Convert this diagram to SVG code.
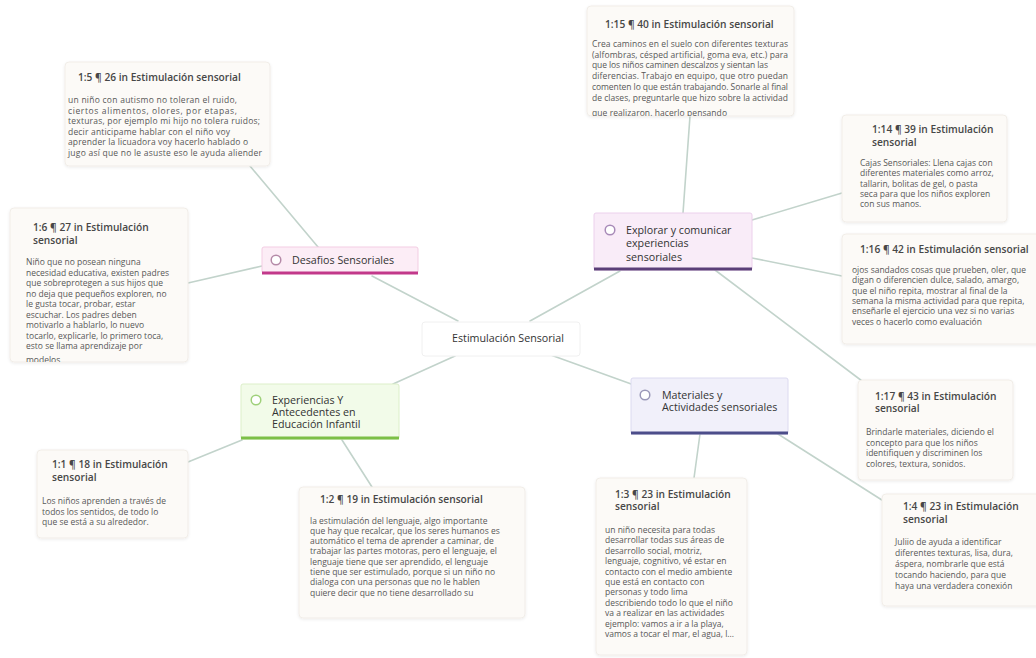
<svg xmlns="http://www.w3.org/2000/svg" width="1036" height="658" viewBox="0 0 1036 658">
<defs>
<filter id="sh" x="-10%" y="-10%" width="120%" height="130%">
<feDropShadow dx="0" dy="1" stdDeviation="1.5" flood-color="#000" flood-opacity="0.08"/>
</filter>
<clipPath id="clipB"><rect x="10" y="208" width="178" height="154"/></clipPath>
<clipPath id="clipC"><rect x="587" y="6" width="207" height="110"/></clipPath>
<clipPath id="clipI"><rect x="299" y="487" width="226" height="131"/></clipPath>
<clipPath id="clipJ"><rect x="596" y="478" width="151" height="177"/></clipPath>
</defs>
<style>
.note{fill:#fcfaf7;stroke:#f1ede8;stroke-width:1;filter:url(#sh)}
.nt{font-family:"Open Sans","Liberation Sans",sans-serif;font-size:10.2px;font-weight:600;fill:#474747}
.nb{font-family:"Open Sans","Liberation Sans",sans-serif;font-size:8.5px;fill:#585858}
.lbl{font-family:"Open Sans","Liberation Sans",sans-serif;font-size:10.7px;fill:#333333}
.conn{stroke:#c2d3cb;stroke-width:1.6;fill:none;stroke-linecap:round}
.ic{fill:#fff;stroke-width:1.5}
</style>
<rect width="1036" height="658" fill="#ffffff"/>
<g id="connectors">
<line class="conn" x1="458" y1="321" x2="372" y2="276"/>
<line class="conn" x1="530" y1="321" x2="620" y2="271"/>
<line class="conn" x1="455" y1="356" x2="393" y2="384"/>
<line class="conn" x1="548" y1="354" x2="634" y2="385"/>
<line class="conn" x1="318" y1="247" x2="250" y2="166"/>
<line class="conn" x1="262" y1="266" x2="188" y2="283"/>
<line class="conn" x1="683" y1="213" x2="690" y2="116"/>
<line class="conn" x1="752" y1="220" x2="842" y2="193"/>
<line class="conn" x1="752" y1="258" x2="842" y2="276"/>
<line class="conn" x1="715" y1="270" x2="866" y2="384"/>
<line class="conn" x1="242" y1="440" x2="188" y2="462"/>
<line class="conn" x1="342" y1="440" x2="372" y2="487"/>
<line class="conn" x1="700" y1="434" x2="694" y2="478"/>
<line class="conn" x1="778" y1="434" x2="885" y2="502"/>
</g>
<g id="center">
<rect x="422" y="322" width="158" height="34" rx="3" fill="#ffffff" stroke="#f0f0f0"/>
<text class="lbl" x="508" y="342" text-anchor="middle">Estimulación Sensorial</text>
</g>
<g id="desafios">
<rect x="262" y="247" width="156" height="26" rx="2" fill="#fcedf6" stroke="#f3cde3"/>
<line x1="262" y1="273" x2="418" y2="273" stroke="#c2388a" stroke-width="3"/>
<circle class="ic" cx="276" cy="260" r="4.8" stroke="#b58aa8"/>
<text class="lbl" x="292" y="264">Desafios Sensoriales</text>
</g>
<g id="explorar">
<rect x="594" y="213" width="158" height="57" rx="2" fill="#f9ecf8" stroke="#ecd0ec"/>
<line x1="594" y1="269" x2="752" y2="269" stroke="#5b3f78" stroke-width="3"/>
<circle class="ic" cx="610" cy="230" r="4.8" stroke="#a88ab8"/>
<text class="lbl" x="626" y="233.5">Explorar y comunicar</text>
<text class="lbl" x="626" y="247">experiencias</text>
<text class="lbl" x="626" y="260.5">sensoriales</text>
</g>
<g id="experiencias">
<rect x="241" y="384" width="158" height="55" rx="2" fill="#f2fbe9" stroke="#dcefc9"/>
<line x1="241" y1="438" x2="399" y2="438" stroke="#7cbf47" stroke-width="3"/>
<circle class="ic" cx="256" cy="400" r="4.8" stroke="#9fd07a"/>
<text class="lbl" x="272" y="403.5">Experiencias Y</text>
<text class="lbl" x="272" y="415.5">Antecedentes en</text>
<text class="lbl" x="272" y="427.5">Educación Infantil</text>
</g>
<g id="materiales">
<rect x="631" y="378" width="157" height="56" rx="2" fill="#f1f0fa" stroke="#dcdaf0"/>
<line x1="631" y1="433" x2="788" y2="433" stroke="#4c4d8a" stroke-width="3"/>
<circle class="ic" cx="645" cy="395" r="4.8" stroke="#9a98b8"/>
<text class="lbl" x="662" y="398.5">Materiales y</text>
<text class="lbl" x="662" y="411">Actividades sensoriales</text>
</g>
<g id="note-a">
<rect class="note" x="65" y="62" width="205" height="104" rx="4"/>
<text class="nt" x="78" y="81">1:5 ¶ 26 in Estimulación sensorial</text>
<text class="nb" x="68" y="103" textLength="169">un niño con autismo no toleran el ruido,</text>
<text class="nb" x="68" y="113.5" textLength="169">ciertos alimentos, olores, por etapas,</text>
<text class="nb" x="68" y="124" textLength="192">texturas, por ejemplo mi hijo no tolera ruidos;</text>
<text class="nb" x="68" y="134.5" textLength="162">decir anticipame hablar con el niño voy</text>
<text class="nb" x="68" y="145" textLength="180">aprender la licuadora voy hacerlo hablado o</text>
<text class="nb" x="68" y="155.5" textLength="194">jugo así que no le asuste eso le ayuda aliender</text>
</g>
<g id="note-b">
<rect class="note" x="10" y="208" width="178" height="154" rx="4"/>
<text class="nt" x="33" y="231">1:6 ¶ 27 in Estimulación</text>
<text class="nt" x="33" y="244">sensorial</text>
<g clip-path="url(#clipB)">
<text class="nb" x="26" y="265">Niño que no posean ninguna</text>
<text class="nb" x="26" y="275.5">necesidad educativa, existen padres</text>
<text class="nb" x="26" y="286">que sobreprotegen a sus hijos que</text>
<text class="nb" x="26" y="296.5">no deja que pequeños exploren, no</text>
<text class="nb" x="26" y="307">le gusta tocar, probar, estar</text>
<text class="nb" x="26" y="317.5">escuchar. Los padres deben</text>
<text class="nb" x="26" y="328">motivarlo a hablarlo, lo nuevo</text>
<text class="nb" x="26" y="338.5">tocarlo, explicarle, lo primero toca,</text>
<text class="nb" x="26" y="349">esto se llama aprendizaje por</text>
<text class="nb" x="26" y="363">modelos</text>
</g>
</g>
<g id="note-c">
<rect class="note" x="587" y="6" width="207" height="110" rx="4"/>
<text class="nt" x="605" y="28">1:15 ¶ 40 in Estimulación sensorial</text>
<g clip-path="url(#clipC)">
<text class="nb" x="592" y="47" textLength="196">Crea caminos en el suelo con diferentes texturas</text>
<text class="nb" x="592" y="57.7" textLength="196">(alfombras, césped artificial, goma eva, etc.) para</text>
<text class="nb" x="592" y="68.4" textLength="176">que los niños caminen descalzos y sientan las</text>
<text class="nb" x="592" y="79.1" textLength="196">diferencias. Trabajo en equipo, que otro puedan</text>
<text class="nb" x="592" y="89.8" textLength="196">comenten lo que están trabajando. Sonarle al final</text>
<text class="nb" x="592" y="100.5" textLength="196">de clases, preguntarle que hizo sobre la actividad</text>
<text class="nb" x="592" y="116" textLength="135">que realizaron. hacerlo pensando</text>
</g>
</g>
<g id="note-d">
<rect class="note" x="842" y="115" width="165" height="107" rx="4"/>
<text class="nt" x="872" y="133">1:14 ¶ 39 in Estimulación</text>
<text class="nt" x="872" y="146">sensorial</text>
<text class="nb" x="860" y="166">Cajas Sensoriales: Llena cajas con</text>
<text class="nb" x="860" y="176.3">diferentes materiales como arroz,</text>
<text class="nb" x="860" y="186.6">tallarin, bolitas de gel, o pasta</text>
<text class="nb" x="860" y="196.9">seca para que los niños exploren</text>
<text class="nb" x="860" y="207.2">con sus manos.</text>
</g>
<g id="note-e">
<rect class="note" x="842" y="234" width="200" height="110" rx="4"/>
<text class="nt" x="860" y="253">1:16 ¶ 42 in Estimulación sensorial</text>
<text class="nb" x="852" y="273">ojos sandados cosas que prueben, oler, que</text>
<text class="nb" x="852" y="283.3">digan o diferencien dulce, salado, amargo,</text>
<text class="nb" x="852" y="293.6">que el niño repita, mostrar al final de la</text>
<text class="nb" x="852" y="303.9">semana la misma actividad para que repita,</text>
<text class="nb" x="852" y="314.2">enseñarle el ejercicio una vez si no varias</text>
<text class="nb" x="852" y="324.5">veces o hacerlo como evaluación</text>
</g>
<g id="note-f">
<rect class="note" x="858" y="380" width="155" height="100" rx="4"/>
<text class="nt" x="875" y="400">1:17 ¶ 43 in Estimulación</text>
<text class="nt" x="875" y="412">sensorial</text>
<text class="nb" x="866" y="435">Brindarle materiales, diciendo el</text>
<text class="nb" x="866" y="445.5">concepto para que los niños</text>
<text class="nb" x="866" y="456">identifiquen y discriminen los</text>
<text class="nb" x="866" y="466.5">colores, textura, sonidos.</text>
</g>
<g id="note-g">
<rect class="note" x="882" y="494" width="160" height="112" rx="4"/>
<text class="nt" x="903" y="510">1:4 ¶ 23 in Estimulación</text>
<text class="nt" x="903" y="523">sensorial</text>
<text class="nb" x="895" y="545">Juliio de ayuda a identificar</text>
<text class="nb" x="895" y="556">diferentes texturas, lisa, dura,</text>
<text class="nb" x="895" y="567">áspera, nombrarle que está</text>
<text class="nb" x="895" y="578">tocando haciendo, para que</text>
<text class="nb" x="895" y="589">haya una verdadera conexión</text>
</g>
<g id="note-h">
<rect class="note" x="37" y="450" width="151" height="88" rx="4"/>
<text class="nt" x="52" y="468">1:1 ¶ 18 in Estimulación</text>
<text class="nt" x="52" y="481">sensorial</text>
<text class="nb" x="42" y="504">Los niños aprenden a través de</text>
<text class="nb" x="42" y="514.5">todos los sentidos, de todo lo</text>
<text class="nb" x="42" y="525">que se está a su alrededor.</text>
</g>
<g id="note-i">
<rect class="note" x="299" y="487" width="226" height="131" rx="4"/>
<text class="nt" x="320" y="503">1:2 ¶ 19 in Estimulación sensorial</text>
<g clip-path="url(#clipI)">
<text class="nb" x="310" y="523.5">la estimulación del lenguaje, algo importante</text>
<text class="nb" x="310" y="533.8">que hay que recalcar, que los seres humanos es</text>
<text class="nb" x="310" y="544.1">automático el tema de aprender a caminar, de</text>
<text class="nb" x="310" y="554.4">trabajar las partes motoras, pero el lenguaje, el</text>
<text class="nb" x="310" y="564.7">lenguaje tiene que ser aprendido, el lenguaje</text>
<text class="nb" x="310" y="575">tiene que ser estimulado, porque si un niño no</text>
<text class="nb" x="310" y="585.3">dialoga con una personas que no le hablen</text>
<text class="nb" x="310" y="595.6">quiere decir que no tiene desarrollado su</text>
</g>
</g>
<g id="note-j">
<rect class="note" x="596" y="478" width="151" height="177" rx="4"/>
<text class="nt" x="615" y="498">1:3 ¶ 23 in Estimulación</text>
<text class="nt" x="615" y="510">sensorial</text>
<g clip-path="url(#clipJ)">
<text class="nb" x="605" y="533">un niño necesita para todas</text>
<text class="nb" x="605" y="543.4">desarrollar todas sus áreas de</text>
<text class="nb" x="605" y="553.8">desarrollo social, motriz,</text>
<text class="nb" x="605" y="564.2">lenguaje, cognitivo, vé estar en</text>
<text class="nb" x="605" y="574.6">contacto con el medio ambiente</text>
<text class="nb" x="605" y="585">que está en contacto con</text>
<text class="nb" x="605" y="595.4">personas y todo lima</text>
<text class="nb" x="605" y="605.8">describiendo todo lo que el niño</text>
<text class="nb" x="605" y="616.2">va a realizar en las actividades</text>
<text class="nb" x="605" y="626.6">ejemplo: vamos a ir a la playa,</text>
<text class="nb" x="605" y="637">vamos a tocar el mar, el agua, l...</text>
</g>
</g>
</svg>
